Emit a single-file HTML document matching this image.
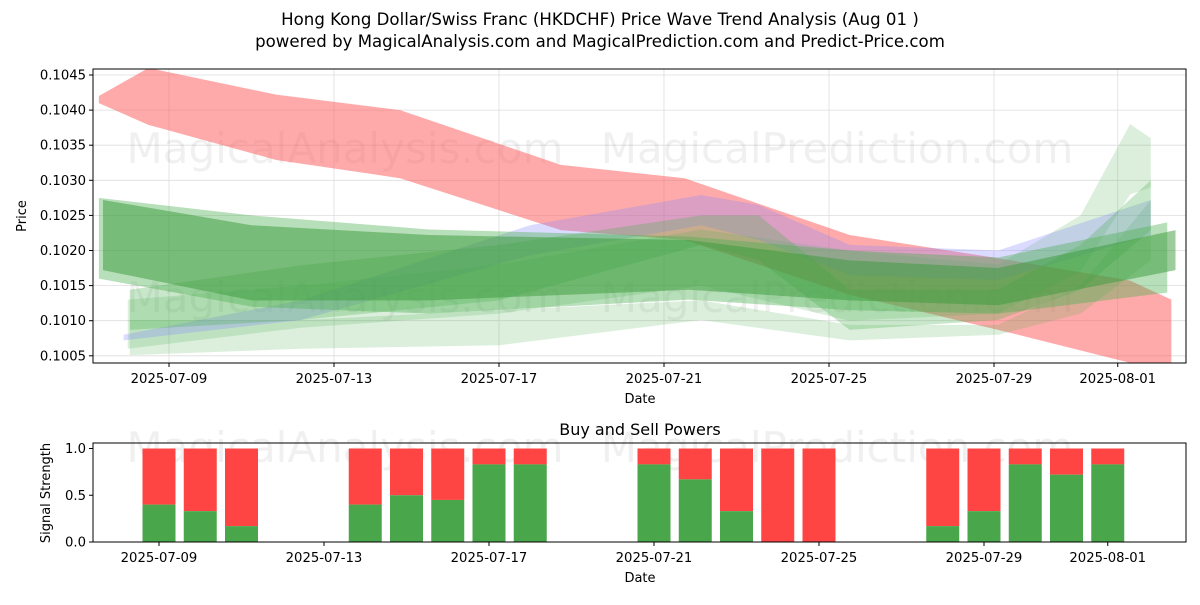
<!DOCTYPE html>
<html><head><meta charset="utf-8"><style>
body{margin:0;background:#fff;font-family:"Liberation Sans","DejaVu Sans",sans-serif}
svg text{font-family:"DejaVu Sans","Liberation Sans",sans-serif}
</style></head><body>
<svg id="c" width="1200" height="600" xmlns="http://www.w3.org/2000/svg">
<text x="600" y="25" font-size="16.6" text-anchor="middle">Hong Kong Dollar/Swiss Franc (HKDCHF) Price Wave Trend Analysis (Aug 01 )</text>
<text x="600" y="47" font-size="16.6" text-anchor="middle">powered by MagicalAnalysis.com and MagicalPrediction.com and Predict-Price.com</text>
<g id="topPanel"></g>
<g id="botPanel"></g>
</svg>
<script>
// x: day of July (Aug 1 = 32)
const yTicks=[0.1005,0.1010,0.1015,0.1020,0.1025,0.1030,0.1035,0.1040,0.1045];
const xTickDays=[9,13,17,21,25,29,32];
const xTickLabels=["2025-07-09","2025-07-13","2025-07-17","2025-07-21","2025-07-25","2025-07-29","2025-08-01"];
const redDays=[7.3,8.5,11.6,14.6,18.5,21.5,25.5,29.1,32.3,33.3];
const redHi=[0.10420,0.10460,0.10422,0.10400,0.10322,0.10303,0.10222,0.10189,0.10157,0.10130];
const redLo=[0.10410,0.10379,0.10329,0.10303,0.10229,0.10215,0.10137,0.10087,0.10040,0.10035];
const gADays=[7.4,11.0,15.3,21.6,25.5,29.1,33.4];
const gAHi=[0.10272,0.10236,0.10222,0.10215,0.10186,0.10175,0.10229];
const gALo=[0.10172,0.10129,0.10129,0.10144,0.10129,0.10122,0.10172];
const gBDays=[7.3,11.0,15.3,21.6,25.5,29.1,33.2];
const gBHi=[0.10275,0.10250,0.10230,0.10220,0.10200,0.10190,0.10240];
const gBLo=[0.10160,0.10120,0.10110,0.10130,0.10115,0.10110,0.10140];
const gCDays=[8.05,12.2,17.0,21.9,23.3,25.5,29.1,31.1,32.8];
const gCHi=[0.10144,0.10179,0.10208,0.10250,0.10250,0.10144,0.10144,0.10208,0.10300];
const gCLo=[0.10087,0.10101,0.10129,0.10208,0.10186,0.10087,0.10101,0.10144,0.10229];
const gDDays=[8.05,12.2,17.0,21.9,25.5,29.1,31.1,32.8];
const gDHi=[0.10101,0.10101,0.10115,0.10129,0.10094,0.10094,0.10150,0.10272];
const gDLo=[0.10051,0.10060,0.10065,0.10101,0.10072,0.10080,0.10110,0.10186];
const gEDays=[8.0,12.2,17.0,21.9,25.5,29.1,31.1,32.3,32.8];
const gEHi=[0.10130,0.10150,0.10180,0.10230,0.10200,0.10180,0.10250,0.10380,0.10360];
const gELo=[0.10060,0.10090,0.10110,0.10150,0.10100,0.10110,0.10170,0.10280,0.10290];
const blDays=[7.9,12.2,17.75,21.9,23.3,25.5,29.1,32.8];
const blHi=[0.10080,0.10129,0.10236,0.10279,0.10265,0.10208,0.10200,0.10272];
const blLo=[0.10072,0.10101,0.10193,0.10236,0.10215,0.10165,0.10158,0.10222];
const barDays=[9,10,11,14,15,16,17,18,21,22,23,24,25,28,29,30,31,32];
const buyVals=[0.4,0.33,0.17,0.4,0.5,0.45,0.83,0.83,0.83,0.67,0.33,0,0,0.17,0.33,0.83,0.72,0.83];
const sigTicks=[0,0.5,1.0];

const NS="http://www.w3.org/2000/svg";
const L=93,R=1186,T1=69,B1=363,T2=443,B2=542;
const X=d=>169+(d-9)*41.25;
const Y=p=>75+(0.1045-p)/0.0005*35.1;
const Y2=v=>542-v*93.5;
function mk(tag,parent,attrs){const e=document.createElementNS(NS,tag);for(const k in attrs)e.setAttribute(k,attrs[k]);parent.appendChild(e);return e;}
const topG=document.getElementById('topPanel'),botG=document.getElementById('botPanel');
const defs=mk('defs',topG,{});
const cp=mk('clipPath',defs,{id:'cp1'});mk('rect',cp,{x:L,y:T1,width:R-L,height:B1-T1});
yTicks.forEach(t=>{const y=Y(t);
 const g=mk('line',topG,{x1:L,x2:R,y1:y,y2:y,stroke:'#ddd','stroke-width':0.8});
 
 
 mk('line',topG,{x1:L-4,x2:L,y1:y,y2:y,stroke:'#000'});
 const tx=mk('text',topG,{x:L-7,y:y+4.5,'font-size':13.2,'text-anchor':'end'});tx.textContent=t.toFixed(4);
 
 });
xTickDays.forEach((d,i)=>{const x=X(d);
 mk('line',topG,{x1:x,x2:x,y1:T1,y2:B1,stroke:'#ddd','stroke-width':0.8});
 mk('line',topG,{x1:x,x2:x,y1:B1,y2:B1+4,stroke:'#000'});
 const tx=mk('text',topG,{x:x,y:B1+20,'font-size':13.2,'text-anchor':'middle'});tx.textContent=xTickLabels[i];
 
 });
[[345,163],[837,163],[345,312],[837,312]].forEach((w,i)=>{const t=mk('text',topG,{x:w[0],y:w[1],'font-size':42,'text-anchor':'middle',fill:'#000','fill-opacity':0.06});t.textContent=i%2?'MagicalPrediction.com':'MagicalAnalysis.com';
 
 });
const bands=mk('g',topG,{'clip-path':'url(#cp1)'});
function band(days,hi,lo,fill,op,name){
 let pts=days.map((d,i)=>X(d)+','+Y(hi[i]));
 for(let i=days.length-1;i>=0;i--)pts.push(X(days[i])+','+Y(lo[i]));
 const p=mk('polygon',bands,{points:pts.join(' '),fill:fill,'fill-opacity':op});
 
 }
band(redDays,redHi,redLo,'#ff5555',0.5,'red-wave-band');
band(gDDays,gDHi,gDLo,'#4caf50',0.2,'green-wave-band-low');
band(gEDays,gEHi,gELo,'#4caf50',0.2,'green-wave-band-light');
band(blDays,blHi,blLo,'#8888ff',0.3,'blue-wave-band');
band(gCDays,gCHi,gCLo,'#4caf50',0.3,'green-wave-band-rising');
band(gBDays,gBHi,gBLo,'#4caf50',0.4,'green-wave-band-wide');
band(gADays,gAHi,gALo,'#3a9a3a',0.5,'green-wave-band-main');
mk('rect',topG,{x:L,y:T1,width:R-L,height:B1-T1,fill:'none',stroke:'#000','stroke-width':1});
let t=mk('text',topG,{x:640,y:403,'font-size':13,'text-anchor':'middle'});t.textContent='Date';


t=mk('text',topG,{x:0,y:0,'font-size':13,'text-anchor':'middle',transform:'translate(26,216) rotate(-90)'});t.textContent='Price';



t=mk('text',botG,{x:640,y:435,'font-size':16,'text-anchor':'middle'});t.textContent='Buy and Sell Powers';


[[345,462],[837,462]].forEach((w,i)=>{const m=mk('text',botG,{x:w[0],y:w[1],'font-size':42,'text-anchor':'middle','fill-opacity':0.06});m.textContent=i?'MagicalPrediction.com':'MagicalAnalysis.com';
 
 });
sigTicks.forEach(v=>{const y=Y2(v);mk('line',botG,{x1:L-4,x2:L,y1:y,y2:y,stroke:'#000'});
 const tx=mk('text',botG,{x:L-7,y:y+4.5,'font-size':13.2,'text-anchor':'end'});tx.textContent=v.toFixed(1);
 
 });
barDays.forEach((d,i)=>{const cx=X(d)-10,w=33;
 const s=mk('rect',botG,{x:cx-w/2,y:Y2(1),width:w,height:Y2(buyVals[i])-Y2(1),fill:'#ff4444'});
 
 
 const b=mk('rect',botG,{x:cx-w/2,y:Y2(buyVals[i]),width:w,height:Y2(0)-Y2(buyVals[i]),fill:'#4aa64a'});
 
 });
xTickDays.forEach((d,i)=>{const x=X(d);mk('line',botG,{x1:x-10,x2:x-10,y1:B2,y2:B2+4,stroke:'#000'});
 const tx=mk('text',botG,{x:x-10,y:B2+20,'font-size':13.2,'text-anchor':'middle'});tx.textContent=xTickLabels[i];
 
 });
mk('rect',botG,{x:L,y:T2,width:R-L,height:B2-T2,fill:'none',stroke:'#000'});
t=mk('text',botG,{x:640,y:582,'font-size':13,'text-anchor':'middle'});t.textContent='Date';


t=mk('text',botG,{x:0,y:0,'font-size':13,'text-anchor':'middle',transform:'translate(50,493) rotate(-90)'});t.textContent='Signal Strength';


</script>
</body></html>
